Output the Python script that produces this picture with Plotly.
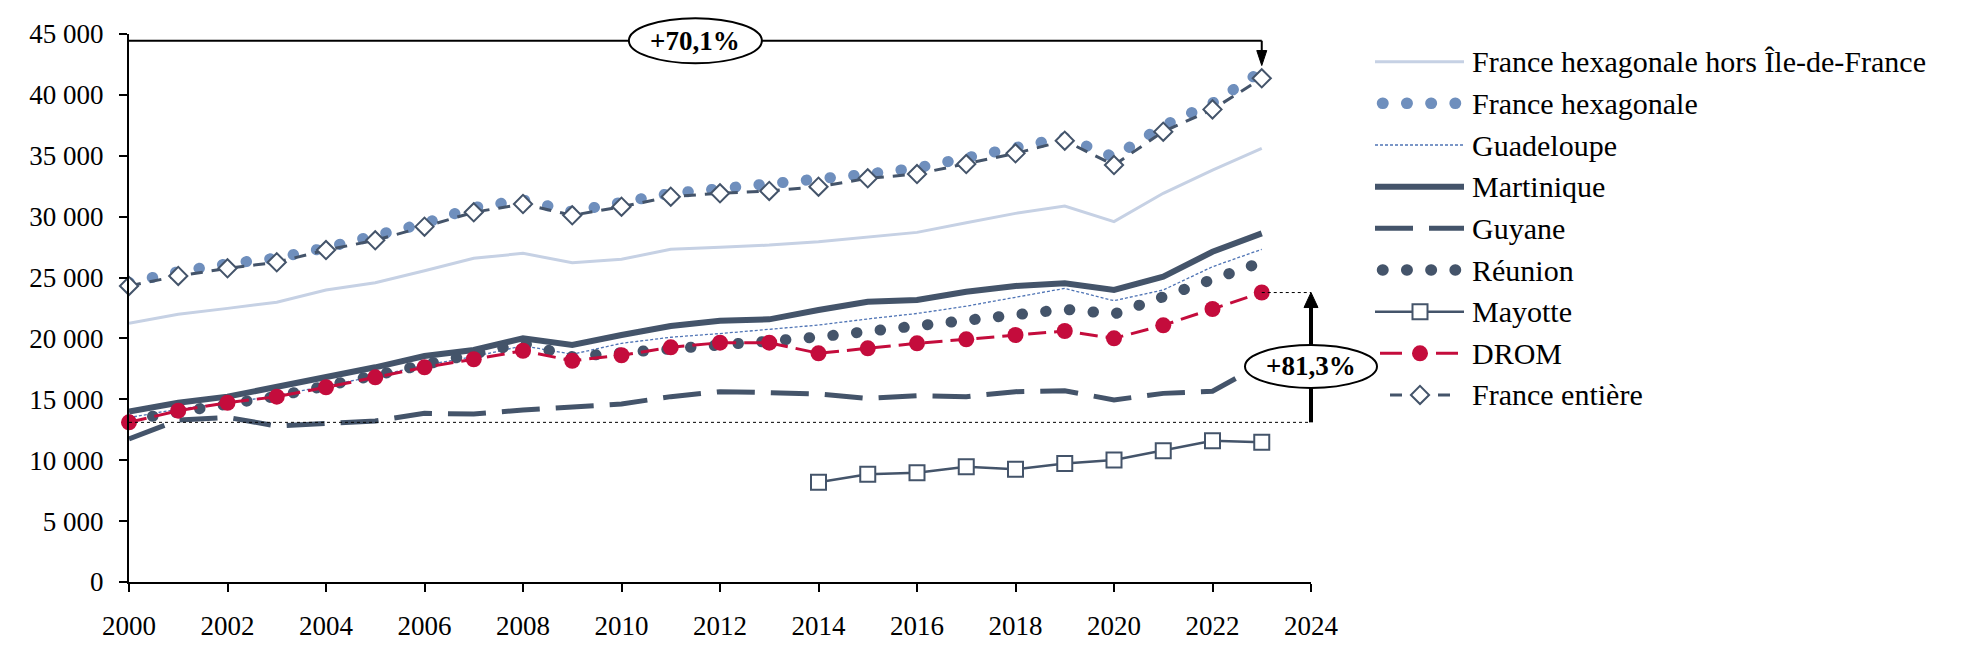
import plotly.graph_objects as go

# ---------------- data ----------------
years = list(range(2000, 2024))
years_mayotte = list(range(2014, 2024))

fh_hors_idf = [21240, 21980, 22470, 22970, 23980, 24580, 25560, 26580, 26990, 26220, 26500, 27320,
               27480, 27670, 27950, 28360, 28710, 29500, 30270, 30880, 29590, 31920, 33830, 35610]
france_hex = [24580, 25480, 26130, 26600, 27450, 28450, 29450, 30750, 31370, 30420, 31150, 31920,
              32300, 32650, 32950, 33500, 34000, 34850, 35740, 36500, 34900, 37460, 39330, 41950]
guadeloupe = [13500, 14200, 14700, 15300, 16100, 16900, 17800, 18500, 19400, 18700, 19600, 20100,
              20400, 20750, 21100, 21600, 22050, 22650, 23380, 24110, 23100, 23980, 25890, 27320]
martinique = [13990, 14720, 15220, 16040, 16780, 17630, 18560, 19050, 20010, 19460, 20280, 21020,
              21460, 21570, 22340, 23020, 23160, 23840, 24310, 24530, 23980, 25070, 27120, 28630]
guyane = [11750, 13300, 13520, 12810, 13030, 13220, 13850, 13800, 14120, 14400, 14620, 15220,
          15630, 15550, 15440, 15080, 15300, 15220, 15630, 15710, 14950, 15490, 15660, 17900]
reunion = [13300, 13900, 14550, 15250, 16100, 16950, 17800, 18600, 19600, 18500, 18850, 19300,
           19600, 19780, 20120, 20590, 21150, 21670, 21970, 22400, 22000, 23400, 24700, 26260]
mayotte = [8190, 8840, 8980, 9470, 9250, 9740, 10020, 10780, 11600, 11470]
drom = [13110, 14070, 14720, 15220, 15990, 16810, 17630, 18290, 18990, 18170, 18620, 19270,
        19650, 19650, 18780, 19190, 19600, 19930, 20280, 20610, 20010, 21080, 22420, 23770]
france_entiere = [24310, 25130, 25760, 26250, 27260, 28060, 29180, 30360, 31040, 30110, 30820, 31640,
                  31920, 32110, 32460, 33150, 33500, 34320, 35200, 36240, 34240, 36980, 38810, 41360]

series_names = ["France hexagonale hors Île-de-France", "France hexagonale", "Guadeloupe",
                "Martinique", "Guyane", "Réunion", "Mayotte", "DROM", "France entière"]
label_fe = "+70,1%"
label_drom = "+81,3%"
y_ticks = list(range(0, 45001, 5000))
x_ticks = list(range(2000, 2025, 2))

# ---------------- styles ----------------
FONT = "Liberation Serif"
SLATE = "#44546a"
BLUE_DOT = "#6f8fbd"
LIGHT = "#c6d1e4"
GUA = "#4f74b5"
RED = "#c40c3c"

W, H = 1971, 665
ML, MR, MT, MB = 129, 10, 34, 83
PLOT_W = W - ML - MR
PLOT_H = H - MT - MB
X_RIGHT_PX = 1311
XD = (X_RIGHT_PX - ML) / PLOT_W
XMIN, XMAX = 2000, 2024
YMIN, YMAX = 0, 45000


def px(year):
    return (year - XMIN) / (XMAX - XMIN) * XD


def py(v):
    return (v - YMIN) / (YMAX - YMIN)


styles = {
    "fhidf": dict(line=dict(color=LIGHT, width=3)),
    "fh": dict(line=dict(color=BLUE_DOT, width=11, dash="0.5px,23.3px")),
    "gua": dict(line=dict(color=GUA, width=1.3, dash="3px,2px")),
    "mar": dict(line=dict(color=SLATE, width=6)),
    "guy": dict(line=dict(color=SLATE, width=5, dash="38px,16px")),
    "reu": dict(line=dict(color=SLATE, width=11, dash="0.5px,23.3px")),
    "may": dict(line=dict(color=SLATE, width=2.5),
                marker=dict(symbol="square", size=15, color="white", line=dict(color=SLATE, width=2))),
    "drom": dict(line=dict(color=RED, width=3, dash="18px,8px"),
                 marker=dict(symbol="circle", size=16, color=RED)),
    "fe": dict(line=dict(color=SLATE, width=3, dash="12px,9px"),
               marker=dict(symbol="diamond", size=14, color="white", line=dict(color=SLATE, width=2))),
}
uids = {"fhidf": "fhidf", "fh": "fhdots", "gua": "gua", "mar": "mar", "guy": "guy",
        "reu": "reudots", "may": "may", "drom": "drom", "fe": "fe"}

fig = go.Figure()

series = [
    ("fhidf", years, fh_hors_idf, "lines"),
    ("fh", years, france_hex, "lines"),
    ("gua", years, guadeloupe, "lines"),
    ("mar", years, martinique, "lines"),
    ("guy", years, guyane, "lines"),
    ("reu", years, reunion, "lines"),
    ("may", years_mayotte, mayotte, "lines+markers"),
    ("drom", years, drom, "lines+markers"),
    ("fe", years, france_entiere, "lines+markers"),
]
for (key, xs, ys, mode), name in zip(series, series_names):
    fig.add_trace(go.Scatter(x=xs, y=ys, mode=mode, name=name, uid=uids[key],
                             showlegend=False, cliponaxis=False, hoverinfo="skip",
                             **styles[key]))

# ---------------- custom legend (on pixel-scaled helper axes) ----------------
LEG_X0, LEG_X1, LEG_MID, LEG_TXT = 1375, 1464, 1420, 1470
LEG_Y0, LEG_DY = 61.7, 41.66
rows = [LEG_Y0 + i * LEG_DY for i in range(len(series_names))]


def leg_line(key, x0, x1, y, uid=None, line=None):
    fig.add_trace(go.Scatter(x=[x0, x1], y=[y, y], mode="lines", xaxis="x2", yaxis="y2",
                             showlegend=False, hoverinfo="skip", cliponaxis=False,
                             uid=uid, line=line or styles[key]["line"]))


def leg_marker(key, y):
    fig.add_trace(go.Scatter(x=[LEG_MID], y=[y], mode="markers", xaxis="x2", yaxis="y2",
                             showlegend=False, hoverinfo="skip", cliponaxis=False,
                             marker=styles[key]["marker"]))


leg_line("fhidf", LEG_X0, LEG_X1, rows[0])
leg_line("fh", 1382.5, 1455.5, rows[1], uid="fhdotsleg",
         line=dict(color=BLUE_DOT, width=11.5, dash="0.5px,23.7px"))
leg_line("gua", LEG_X0, LEG_X1, rows[2])
leg_line("mar", LEG_X0, LEG_X1, rows[3])
leg_line("guy", LEG_X0, LEG_X1, rows[4])
leg_line("reu", 1382.5, 1455.5, rows[5], uid="reudotsleg",
         line=dict(color=SLATE, width=11.5, dash="0.5px,23.7px"))
leg_line("may", LEG_X0, LEG_X1, rows[6])
leg_marker("may", rows[6])
leg_line("drom", 1380, 1461, rows[7], line=dict(color=RED, width=3, dash="22px,34px"))
leg_marker("drom", rows[7])
leg_line("fe", 1390, 1450, rows[8], line=dict(color=SLATE, width=3, dash="12px,36px"))
leg_marker("fe", rows[8])

annotations = []
for name, y in zip(series_names, rows):
    annotations.append(dict(text=name, x=LEG_TXT, y=y, xref="x2", yref="y2", xanchor="left",
                            yanchor="middle", showarrow=False,
                            font=dict(family=FONT, size=30, color="black")))

# ---------------- growth annotations ----------------
BRACKET_V = 44450
TOP_TIP_V = france_entiere[-1] + 1050
ELL_R_V = 17700
shapes = []
blk = dict(color="black", width=2)
dotted = dict(color="black", width=1, dash="3px,3px")

# dotted reference lines for DROM
shapes.append(dict(type="line", xref="paper", yref="paper", x0=px(years[0]), x1=px(XMAX),
                   y0=py(drom[0]), y1=py(drom[0]), line=dotted, layer="above"))
shapes.append(dict(type="line", xref="paper", yref="paper", x0=px(years[-1]), x1=px(XMAX),
                   y0=py(drom[-1]), y1=py(drom[-1]), line=dotted, layer="above"))
# right vertical arrow
shapes.append(dict(type="line", xref="paper", yref="paper", x0=px(XMAX), x1=px(XMAX),
                   y0=py(drom[0]), y1=py(drom[-1]) - 10 / PLOT_H,
                   line=dict(color="black", width=4), layer="above"))
shapes.append(dict(type="path", xref="paper", yref="paper", xsizemode="pixel", ysizemode="pixel",
                   xanchor=px(XMAX), yanchor=py(drom[-1]), path="M-7,-15 L7,-15 L0,0 Z",
                   fillcolor="black", line=dict(color="black", width=1), layer="above"))
shapes.append(dict(type="circle", xref="paper", yref="paper", xsizemode="pixel", ysizemode="pixel",
                   xanchor=px(XMAX), yanchor=py(ELL_R_V), x0=-66, x1=66, y0=-21.5, y1=21.5,
                   fillcolor="white", line=blk, layer="above"))
# top bracket
shapes.append(dict(type="line", xref="paper", yref="paper", x0=px(years[0]), x1=px(years[-1]),
                   y0=py(BRACKET_V), y1=py(BRACKET_V), line=blk, layer="above"))
shapes.append(dict(type="line", xref="paper", yref="paper", x0=px(years[-1]), x1=px(years[-1]),
                   y0=py(BRACKET_V), y1=py(TOP_TIP_V) + 12 / PLOT_H, line=blk, layer="above"))
shapes.append(dict(type="path", xref="paper", yref="paper", xsizemode="pixel", ysizemode="pixel",
                   xanchor=px(years[-1]), yanchor=py(TOP_TIP_V), path="M-5,15 L5,15 L0,0 Z",
                   fillcolor="black", line=dict(color="black", width=1), layer="above"))
mid_year = (years[0] + years[-1]) / 2
shapes.append(dict(type="circle", xref="paper", yref="paper", xsizemode="pixel", ysizemode="pixel",
                   xanchor=px(mid_year), yanchor=py(BRACKET_V), x0=-66.5, x1=66.5, y0=-22.5, y1=22.5,
                   fillcolor="white", line=blk, layer="above"))

annotations.append(dict(text="<b>%s</b>" % label_fe, x=px(mid_year), y=py(BRACKET_V), xref="paper",
                        yref="paper", showarrow=False, xanchor="center", yanchor="middle",
                        font=dict(family=FONT, size=27, color="black")))
annotations.append(dict(text="<b>%s</b>" % label_drom, x=px(XMAX), y=py(ELL_R_V), xref="paper",
                        yref="paper", showarrow=False, xanchor="center", yanchor="middle",
                        font=dict(family=FONT, size=27, color="black")))

fig.update_layout(
    width=W, height=H,
    margin=dict(l=ML, r=MR, t=MT, b=MB, pad=0, autoexpand=False),
    paper_bgcolor="white", plot_bgcolor="white",
    separators=", ",
    showlegend=False,
    hovermode=False,
    font=dict(family=FONT, size=27, color="black"),
    xaxis=dict(domain=[0, XD], range=[XMIN, XMAX], tickmode="array", tickvals=x_ticks,
               showgrid=False, zeroline=False, showline=True, linecolor="black", linewidth=2,
               ticks="outside", ticklen=8, tickwidth=2, tickcolor="black", automargin=False,
               tickfont=dict(family=FONT, size=27, color="black"), ticklabelstandoff=11),
    yaxis=dict(domain=[0, 1], range=[YMIN, YMAX], tickmode="array", tickvals=y_ticks,
               tickformat=",d", showgrid=False, zeroline=False, showline=True, linecolor="black",
               linewidth=2, ticks="outside", ticklen=8, tickwidth=2, tickcolor="black", automargin=False,
               tickfont=dict(family=FONT, size=27, color="black"), ticklabelstandoff=10),
    xaxis2=dict(domain=[XD, 1], range=[X_RIGHT_PX, W - MR], visible=False, anchor="y2"),
    yaxis2=dict(domain=[0, 1], range=[H - MB, MT], visible=False, anchor="x2"),
    shapes=shapes,
    annotations=annotations,
)

post = """
document.body.style.margin = '0';
document.body.style.padding = '0';
var s = document.createElement('style');
s.textContent = 'html, body {margin:0 !important; padding:0 !important;} .tracefhdots path.js-line, .tracereudots path.js-line, .tracefhdotsleg path.js-line, .tracereudotsleg path.js-line {stroke-linecap: round !important;}';
document.head.appendChild(s);
"""
fig.write_html("out.html", post_script=post, config={"displayModeBar": False, "staticPlot": True})
